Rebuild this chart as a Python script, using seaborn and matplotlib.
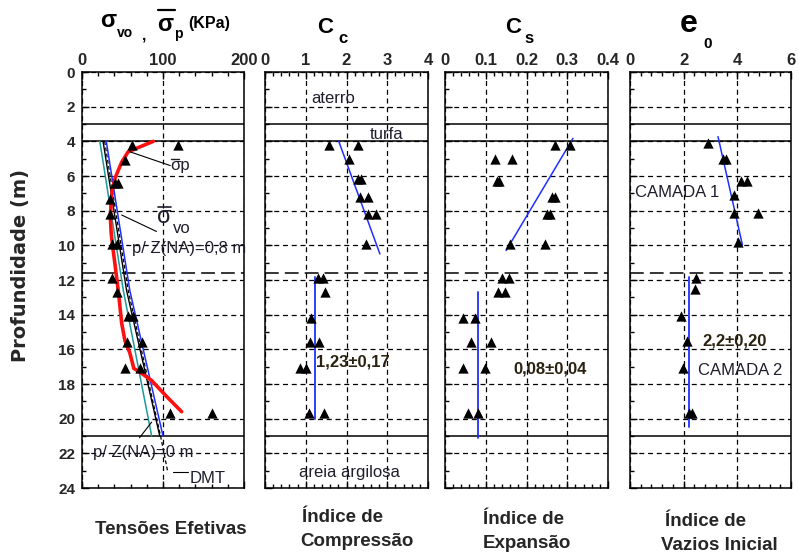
import matplotlib
matplotlib.use("Agg")
import matplotlib.pyplot as plt
from matplotlib.lines import Line2D
from matplotlib.ticker import MultipleLocator, AutoMinorLocator, FixedLocator, FixedFormatter
import seaborn as sns

# ---------------- data ----------------
depth_ticks = list(range(0, 25, 2))
layer_bounds = [3.0, 4.0, 11.6, 21.0]

# Tensões efetivas (kPa)
sp_depth = [4.2, 4.2, 5.1, 6.4, 6.4, 7.3, 8.2, 9.9, 9.9, 11.9, 12.7, 14.1, 14.1,
            15.6, 15.6, 17.1, 17.1, 19.7, 19.7]
sp_value = [62, 119, 53, 41, 45, 35, 35, 37, 43, 37, 43, 57, 63, 55, 74, 53, 72, 109, 160]
sp_fit_depth = [4.0, 4.6, 5.2, 6.1, 6.9, 8.35, 9.3, 10.1, 11.2, 12.7, 14.5, 15.5, 16.2,
                17.1, 17.4, 17.8, 18.7, 19.6]
sp_fit_value = [88, 57, 49, 41, 37, 35, 36, 38, 41, 45, 49, 53, 59, 64, 74, 86, 104, 123]
svo_na08_depth = [4.0, 12.6, 21.0]
svo_na08_value = [30, 59, 100]
svo_na0_depth = [4.0, 12.6, 21.0]
svo_na0_value = [22, 51, 86]
svo_mid_depth = [4.0, 12.6, 21.0]
svo_mid_value = [26, 55, 96]
dmt_depth = [4.0, 12.6, 21.0, 23.1]
dmt_value = [28, 57, 97, 106]

# Índice de compressão
cc_depth = [4.2, 4.2, 5.0, 6.2, 6.2, 7.2, 7.2, 8.2, 8.2, 9.9, 11.9, 11.9, 12.7, 14.2,
            15.6, 15.6, 17.1, 17.1, 19.7, 19.7]
cc_value = [1.56, 2.28, 2.06, 2.28, 2.36, 2.32, 2.52, 2.52, 2.72, 2.48, 1.30, 1.43, 1.47,
            1.13, 1.11, 1.32, 0.86, 1.01, 1.07, 1.45]
cc_trend_depth = [4.0, 10.5]
cc_trend_value = [1.81, 2.82]
cc_mean, cc_std = 1.23, 0.17
cc_mean_depth = [11.85, 20.0]

# Índice de expansão
cs_depth = [4.2, 4.2, 5.0, 5.0, 6.3, 6.3, 7.2, 7.2, 8.2, 8.2, 9.9, 9.9, 11.9, 11.9,
            12.7, 12.7, 14.2, 14.2, 15.6, 15.6, 17.1, 17.1, 19.7, 19.7]
cs_value = [0.270, 0.307, 0.123, 0.164, 0.127, 0.133, 0.262, 0.270, 0.250, 0.258,
            0.160, 0.246, 0.141, 0.156, 0.129, 0.148, 0.044, 0.074, 0.065, 0.113,
            0.043, 0.099, 0.057, 0.080]
cs_trend_depth = [3.83, 10.3]
cs_trend_value = [0.314, 0.150]
cs_mean, cs_std = 0.08, 0.04
cs_mean_depth = [12.7, 21.1]

# Índice de vazios inicial
e0_depth = [4.1, 5.0, 5.0, 6.3, 6.3, 7.1, 8.15, 8.15, 9.8, 11.9, 12.5, 14.1, 15.5,
            17.1, 19.7, 19.7]
e0_value = [2.91, 3.45, 3.58, 4.13, 4.36, 3.88, 3.86, 4.78, 4.03, 2.46, 2.42, 1.91,
            2.14, 1.98, 2.21, 2.30]
e0_trend_depth = [3.73, 9.98]
e0_trend_value = [3.28, 4.19]
e0_mean, e0_std = 2.2, 0.20
e0_mean_depth = [11.85, 20.5]

x_tick_values = [[0, 100, 200], [0, 1, 2, 3, 4], [0, 0.1, 0.2, 0.3, 0.4], [0, 2, 4, 6]]
x_tick_labels = [["0", "100", "200"], ["0", "1", "2", "3", "4"],
                 ["0", "0.1", "0.2", "0.3", "0.4"], ["0", "2", "4", "6"]]
bottom_titles = [["Tensões Efetivas"], ["Índice de", "Compressão"],
                 ["Índice de", "Expansão"], ["Índice de", "Vazios Inicial"]]

# ---------------- figure ----------------
sns.set_theme(style="white")
plt.rcParams["font.family"] = ["Liberation Sans", "DejaVu Sans"]

W, H = 799, 554
TOP, BOTTOM = 72, 488
fig = plt.figure(figsize=(W / 100, H / 100), dpi=100)
fig.patch.set_facecolor("white")

RED = "#ff1010"
BLUE = "#1f2fff"
TEAL = "#1a9a9a"
TXT = "#1e1e2c"
VAL = "#2a2210"
TRI = 55


def ftext(x, y, s, **kw):
    return fig.text(x / W, 1 - y / H, s, **kw)


def fbar(x0, x1, y, lw=1.2, color="black"):
    fig.add_artist(Line2D([x0 / W, x1 / W], [1 - y / H, 1 - y / H],
                          transform=fig.transFigure, color=color, lw=lw))


panel_px = [(82, 244), (265, 428), (445, 608), (630, 791)]
axes = []
for i, (l, r) in enumerate(panel_px):
    ax = fig.add_axes([l / W, 1 - BOTTOM / H, (r - l) / W, (BOTTOM - TOP) / H])
    ax.set_facecolor("white")
    xt = x_tick_values[i]
    ax.set_xlim(xt[0], xt[-1])
    ax.set_ylim(24, 0)
    ax.xaxis.set_major_locator(FixedLocator(xt))
    ax.xaxis.set_major_formatter(FixedFormatter(x_tick_labels[i]))
    ax.xaxis.set_minor_locator(AutoMinorLocator(5))
    ax.yaxis.set_major_locator(FixedLocator(depth_ticks))
    ax.yaxis.set_minor_locator(MultipleLocator(1))
    ax.tick_params(axis="x", which="both", direction="in", top=True, bottom=True,
                   labeltop=True, labelbottom=False, color="black", width=1, pad=3)
    ax.tick_params(axis="x", which="major", length=5, labelsize=12)
    ax.tick_params(axis="x", which="minor", length=3)
    ax.tick_params(axis="y", which="both", direction="in", left=True, right=False,
                   labelleft=(i == 0), color="black", width=1, pad=5)
    ax.tick_params(axis="y", which="major", length=5, labelsize=11)
    ax.tick_params(axis="y", which="minor", length=3)
    for lab in ax.get_xticklabels() + ax.get_yticklabels():
        lab.set_fontweight("bold")
    for sp in ax.spines.values():
        sp.set_color("black")
        sp.set_linewidth(1.1)
    ax.grid(True, which="major", color="black", linestyle=(0, (4, 3)), linewidth=0.9)
    ax.set_axisbelow(True)
    for k, d in enumerate(layer_bounds):
        ls = (0, (9, 4)) if k == 2 else "-"
        ax.axhline(d, color="black", lw=1.1, ls=ls, zorder=2)
    axes.append(ax)

ax1, ax2, ax3, ax4 = axes

# ---- panel 1: effective stresses ----
line_kw = dict(sort=False, estimator=None)
sns.lineplot(x=svo_na0_value, y=svo_na0_depth, color=TEAL, lw=1.1, ax=ax1, **line_kw)
sns.lineplot(x=svo_mid_value, y=svo_mid_depth, color="black", lw=1.0, ax=ax1, **line_kw)
sns.lineplot(x=dmt_value, y=dmt_depth, color="black", lw=0.9, ax=ax1,
             linestyle=(0, (3, 2)), **line_kw)
sns.lineplot(x=svo_na08_value, y=svo_na08_depth, color=BLUE, lw=1.1, ax=ax1, **line_kw)
sns.lineplot(x=sp_fit_value, y=sp_fit_depth, color=RED, lw=2.6, ax=ax1, **line_kw)
sns.scatterplot(x=sp_value, y=sp_depth, marker="^", s=TRI, color="black",
                edgecolor="black", linewidth=0, ax=ax1, zorder=5)

# leaders
ax1.plot([59, 109], [4.6, 5.4], color="black", lw=0.8, clip_on=False)
ax1.plot([49, 92], [8.25, 9.2], color="black", lw=0.8, clip_on=False)
ax1.plot([71, 86], [21.1, 20.2], color="black", lw=0.8, clip_on=False)
ax1.plot([112, 131], [23.1, 23.1], color="black", lw=0.8, clip_on=False)

ftext(170, 170, "σp", fontsize=12, color=TXT)
fbar(171, 179, 158.5, lw=1.0, color=TXT)
ftext(157, 223, "σ", fontsize=17, color=TXT)
fbar(158, 171, 207, lw=1.2, color=TXT)
ftext(173, 233, "vo", fontsize=12, color=TXT)
ftext(132, 253, "p/ Z(NA)=0,8 m", fontsize=12, color=TXT)
ftext(93, 457, "p/ Z(NA)=0 m", fontsize=12, color=TXT)
ftext(190, 483, "DMT", fontsize=12, color=TXT)

# ---- panel 2: Cc ----
sns.lineplot(x=cc_trend_value, y=cc_trend_depth, color=BLUE, lw=1.1, ax=ax2, **line_kw)
sns.lineplot(x=[cc_mean, cc_mean], y=cc_mean_depth, color=BLUE, lw=1.3, ax=ax2, **line_kw)
sns.scatterplot(x=cc_value, y=cc_depth, marker="^", s=TRI, color="black",
                edgecolor="black", linewidth=0, ax=ax2, zorder=5)
ax2.text(1.14, 1.79, "aterro", fontsize=12, color=TXT)
ax2.text(2.57, 3.87, "turfa", fontsize=12, color=TXT)
ax2.text(1.26, 17.0, f"{cc_mean:.2f}±{cc_std:.2f}".replace(".", ","),
         fontsize=12, fontweight="bold", color=VAL)
ax2.text(0.84, 23.35, "areia argilosa", fontsize=12, color=TXT)

# ---- panel 3: Cs ----
sns.lineplot(x=cs_trend_value, y=cs_trend_depth, color=BLUE, lw=1.1, ax=ax3, **line_kw)
sns.lineplot(x=[cs_mean, cs_mean], y=cs_mean_depth, color=BLUE, lw=1.3, ax=ax3, **line_kw)
sns.scatterplot(x=cs_value, y=cs_depth, marker="^", s=TRI, color="black",
                edgecolor="black", linewidth=0, ax=ax3, zorder=5)
ax3.text(0.167, 17.37, f"{cs_mean:.2f}±{cs_std:.2f}".replace(".", ","),
         fontsize=12, fontweight="bold", color=VAL)

# ---- panel 4: e0 ----
sns.lineplot(x=e0_trend_value, y=e0_trend_depth, color=BLUE, lw=1.1, ax=ax4, **line_kw)
sns.lineplot(x=[e0_mean, e0_mean], y=e0_mean_depth, color=BLUE, lw=1.3, ax=ax4, **line_kw)
sns.scatterplot(x=e0_value, y=e0_depth, marker="^", s=TRI, color="black",
                edgecolor="black", linewidth=0, ax=ax4, zorder=5)
ax4.text(0.2, 7.19, "CAMADA 1", fontsize=12, color=TXT)
ax4.text(2.71, 15.75, f"{e0_mean:.1f}±{e0_std:.2f}".replace(".", ","),
         fontsize=12, fontweight="bold", color=VAL)
ax4.text(2.52, 17.48, "CAMADA 2", fontsize=12, color=TXT)

for ax in axes:
    ax.set_xlabel("")
    ax.set_ylabel("")

# ---- headers ----
bold = dict(fontweight="bold", color="black", va="baseline", ha="left")
ftext(100, 27, "σ", fontsize=17, **bold)
ftext(117, 37, "vo", fontsize=10, **bold)
ftext(142, 39, ",", fontsize=11, **bold)
ftext(157, 31, "σ", fontsize=17, **bold)
fbar(158, 175, 9.5, lw=1.6)
ftext(174, 38, "p", fontsize=10, **bold)
ftext(188, 28, "(KPa)", fontsize=11.5, **bold)

ftext(317, 33, "C", fontsize=16, **bold)
ftext(338, 43, "c", fontsize=12, **bold)
ftext(505, 33, "C", fontsize=16, **bold)
ftext(524, 43, "s", fontsize=12, **bold)
ftext(680, 32, "e", fontsize=23, **bold)
ftext(703, 48, "0", fontsize=11, **bold)

# ---- axis title ----
ftext(21, 266, "Profundidade (m)", fontsize=14, fontweight="bold", rotation=90,
      ha="center", va="center", family=["DejaVu Sans"])

# ---- bottom captions ----
cap_pos = [[(95, 529)], [(302, 517), (300, 541)], [(483, 520), (483, 544)],
           [(665, 522), (661, 546)]]
for lines, pos in zip(bottom_titles, cap_pos):
    for s, (x, y) in zip(lines, pos):
        ftext(x, y, s, fontsize=13.5, fontweight="bold", ha="left", va="center")

fig.savefig("out.png", dpi=100, facecolor="white")
